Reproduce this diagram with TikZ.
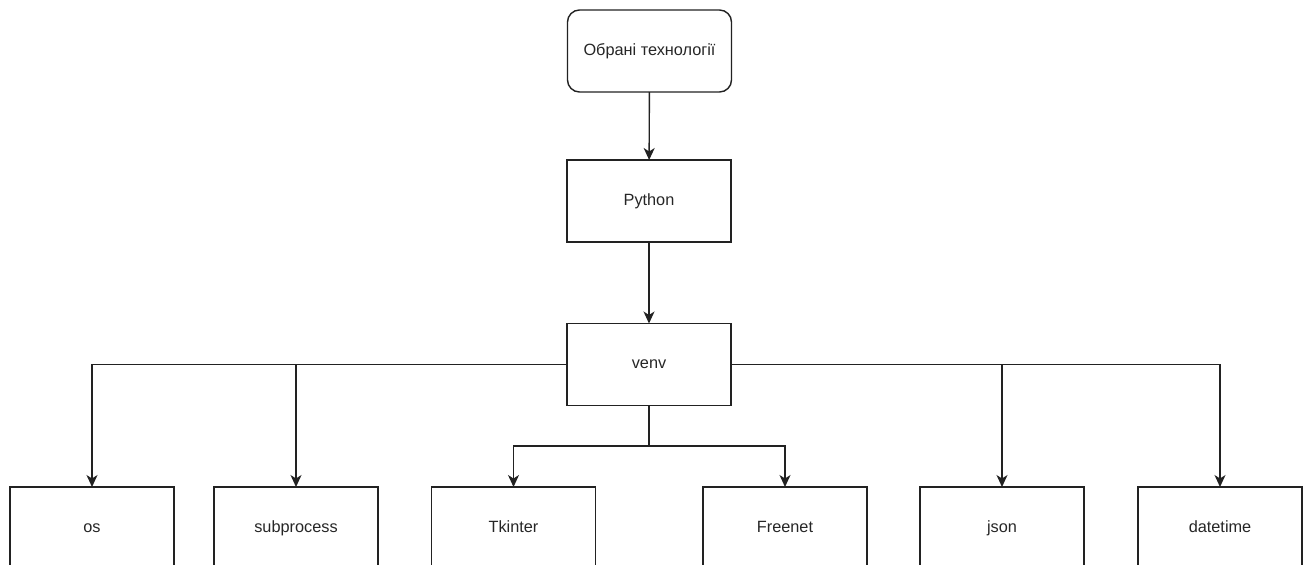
\documentclass[tikz,border=0pt]{standalone}
\usepackage{fontspec}
\setmainfont{Liberation Sans}
\usetikzlibrary{arrows.meta}
\definecolor{ln}{HTML}{222222}
\tikzset{
  box/.style={draw=ln, line width=1.4pt, minimum width=164pt, minimum height=82pt, inner sep=0pt, outer sep=0pt, font=\fontsize{16.3}{19}\selectfont, text=black!85, text height=11.7pt, text depth=3.4pt},
  rbox/.style={box, rounded corners=12pt},
  conn/.style={draw=ln, line width=1.4pt, -{Stealth[length=12pt,width=11pt,inset=3.5pt]}},
  plain/.style={draw=ln, line width=1.4pt}
}
\begin{document}
\begin{tikzpicture}[x=1pt,y=-1pt]
\useasboundingbox (0,0) rectangle (1307,565);
\node[rbox] (top) at (649.5,51) {Обрані технології};
\node[box] (py) at (649,201) {Python};
\node[box] (venv) at (649,364.5) {venv};
\node[box] (os) at (92,528) {os};
\node[box] (sub) at (296,528) {subprocess};
\node[box] (tk) at (513.5,528) {Tkinter};
\node[box] (fn) at (785,528) {Freenet};
\node[box] (js) at (1002,528) {json};
\node[box] (dt) at (1220,528) {datetime};
\coordinate (br) at (649,446);
\draw[conn] (top) -- (py);
\draw[conn] (py) -- (venv);
\draw[conn] (venv.west) -| (os.north);
\draw[conn] (venv.west -| sub.north) -- (sub.north);
\draw[conn] (venv.east) -| (dt.north);
\draw[conn] (venv.east -| js.north) -- (js.north);
\draw[plain] (venv.south) -- (br);
\draw[conn] (br) -| (tk.north);
\draw[conn] (br) -| (fn.north);
\end{tikzpicture}
\end{document}
